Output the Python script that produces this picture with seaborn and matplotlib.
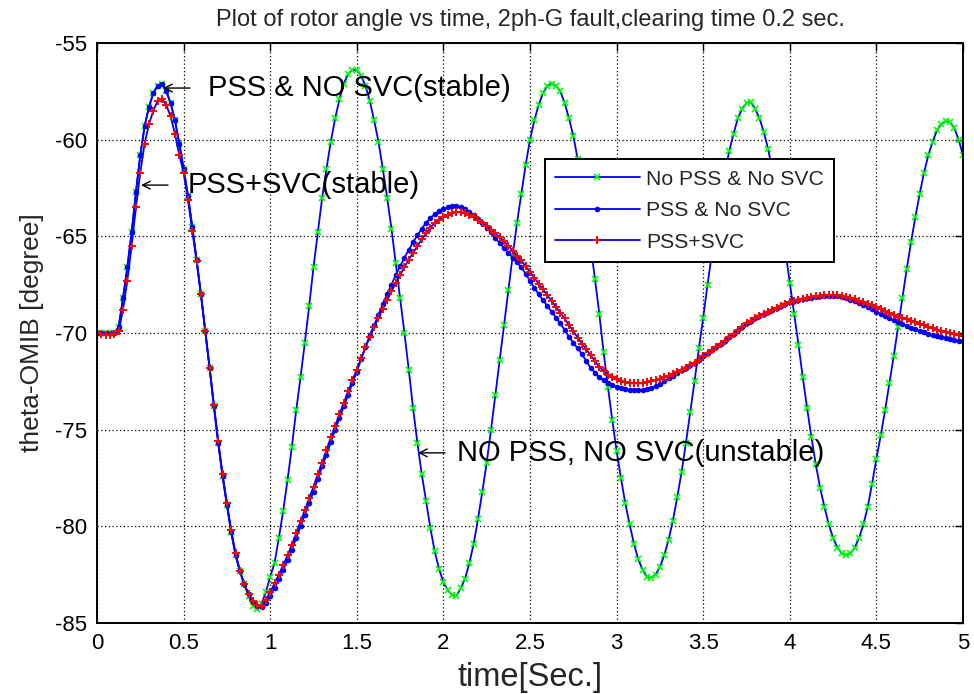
import numpy as np
import matplotlib
matplotlib.use("Agg")
import matplotlib.pyplot as plt
import seaborn as sns

# Simulation time grid [s]
time_s = np.round(np.arange(201) * 0.025, 3)

# Rotor angle of the one-machine equivalent [degree], one value per time step
theta_no_pss_no_svc = [
    -70.0, -70.0, -70.0, -70.0, -70.0, -69.7, -68.2, -66.6, -64.8, -62.7,
    -60.8, -59.3, -58.3, -57.6, -57.2, -57.1, -57.5, -58.1, -59.0, -60.2,
    -61.5, -62.9, -64.5, -66.2, -68.0, -69.9, -71.8, -73.8, -75.7, -77.4,
    -78.9, -80.3, -81.5, -82.3, -83.0, -83.6, -84.1, -84.3, -84.0, -83.4,
    -82.6, -81.9, -80.6, -79.2, -77.6, -75.9, -74.0, -72.3, -70.5, -68.6,
    -66.6, -64.8, -63.0, -61.5, -60.1, -58.9, -57.9, -57.1, -56.6, -56.4,
    -56.4, -56.7, -57.2, -58.0, -59.0, -60.1, -61.5, -63.0, -64.6, -66.4,
    -68.2, -70.0, -71.9, -73.9, -75.7, -77.3, -78.7, -80.1, -81.3, -82.2,
    -82.9, -83.3, -83.55, -83.6, -83.2, -82.7, -81.9, -80.9, -79.6, -78.2,
    -76.7, -75.0, -73.2, -71.4, -69.6, -67.8, -66.0, -64.3, -62.8, -61.3,
    -60.0, -59.0, -58.2, -57.6, -57.2, -57.1, -57.2, -57.5, -58.1, -58.9,
    -59.8, -61.0, -62.4, -63.9, -65.5, -67.2, -69.0, -71.0, -72.8, -74.5,
    -76.1, -77.5, -78.8, -79.9, -80.9, -81.7, -82.25, -82.6, -82.65, -82.5,
    -82.1, -81.5, -80.7, -79.7, -78.5, -77.2, -75.7, -74.1, -72.5, -70.8,
    -69.2, -67.5, -65.9, -64.4, -62.95, -61.7, -60.6, -59.7, -58.9, -58.4,
    -58.1, -58.05, -58.4, -58.9, -59.6, -60.5, -61.6, -62.9, -64.3, -65.8,
    -67.4, -69.0, -70.6, -72.3, -73.9, -75.4, -76.8, -78.0, -79.0, -79.9,
    -80.6, -81.1, -81.4, -81.5, -81.4, -81.1, -80.6, -79.9, -79.0, -77.8,
    -76.5, -75.3, -74.0, -72.6, -71.2, -69.7, -68.2, -66.7, -65.3, -64.0,
    -62.8, -61.7, -60.8, -60.1, -59.5, -59.2, -59.05, -59.1, -59.4, -60.0,
    -60.8,
]

theta_pss_no_svc = [
    -70.0, -70.0, -70.0, -70.0, -70.0, -69.7, -68.2, -66.6, -64.8, -62.7,
    -60.8, -59.3, -58.3, -57.6, -57.2, -57.1, -57.5, -58.1, -59.0, -60.2,
    -61.5, -62.9, -64.5, -66.2, -68.0, -69.9, -71.8, -73.8, -75.7, -77.4,
    -78.9, -80.3, -81.5, -82.3, -83.0, -83.5, -83.9, -84.1, -84.15, -83.95,
    -83.6, -83.2, -82.75, -82.25, -81.75, -81.2, -80.6, -80.0, -79.4, -78.8,
    -78.2, -77.55, -76.9, -76.3, -75.65, -75.0, -74.4, -73.8, -73.2, -72.6,
    -72.0, -71.35, -70.75, -70.1, -69.6, -69.05, -68.5, -68.0, -67.5, -67.0,
    -66.55, -66.1, -65.7, -65.3, -64.95, -64.6, -64.3, -64.05, -63.85, -63.7,
    -63.6, -63.5, -63.45, -63.45, -63.5, -63.6, -63.75, -63.9, -64.1, -64.3,
    -64.55, -64.8, -65.1, -65.35, -65.6, -65.85, -66.1, -66.35, -66.6, -66.95,
    -67.3, -67.65, -68.0, -68.3, -68.6, -68.9, -69.2, -69.5, -69.85, -70.2,
    -70.5, -70.8, -71.1, -71.45, -71.8, -72.05, -72.3, -72.45, -72.6, -72.7,
    -72.8, -72.85, -72.9, -72.95, -72.95, -72.95, -72.95, -72.9, -72.85, -72.75,
    -72.65, -72.5, -72.35, -72.2, -72.05, -71.9, -71.8, -71.65, -71.55, -71.4,
    -71.2, -71.05, -70.9, -70.7, -70.55, -70.4, -70.2, -70.05, -69.85, -69.7,
    -69.5, -69.4, -69.25, -69.1, -69.0, -68.9, -68.8, -68.7, -68.6, -68.5,
    -68.4, -68.35, -68.3, -68.25, -68.2, -68.2, -68.15, -68.1, -68.1, -68.1,
    -68.1, -68.1, -68.15, -68.2, -68.3, -68.35, -68.45, -68.55, -68.65, -68.75,
    -68.9, -69.0, -69.1, -69.25, -69.35, -69.45, -69.55, -69.65, -69.75, -69.8,
    -69.9, -69.95, -70.05, -70.1, -70.15, -70.2, -70.25, -70.3, -70.35, -70.4,
    -70.4,
]

theta_pss_svc = [
    -70.0, -70.05, -70.1, -70.1, -70.05, -69.9, -68.8, -67.3, -65.5, -63.5,
    -61.7, -60.2, -59.2, -58.5, -58.0, -57.9, -58.2, -58.8, -59.7, -60.8,
    -61.7, -63.1, -64.7, -66.3, -68.0, -69.9, -71.8, -73.7, -75.6, -77.3,
    -78.8, -80.2, -81.4, -82.3, -83.0, -83.5, -83.85, -84.05, -84.1, -83.8,
    -83.4, -82.95, -82.5, -82.0, -81.5, -80.95, -80.35, -79.75, -79.15, -78.55,
    -77.95, -77.3, -76.7, -76.05, -75.4, -74.8, -74.2, -73.6, -73.0, -72.45,
    -71.9, -71.3, -70.75, -70.2, -69.7, -69.2, -68.75, -68.3, -67.85, -67.4,
    -67.0, -66.6, -66.2, -65.85, -65.5, -65.15, -64.85, -64.55, -64.3, -64.15,
    -64.0, -63.9, -63.8, -63.75, -63.75, -63.8, -63.9, -64.0, -64.15, -64.3,
    -64.45, -64.65, -64.85, -65.05, -65.25, -65.5, -65.75, -66.0, -66.25, -66.55,
    -66.85, -67.15, -67.45, -67.75, -68.05, -68.35, -68.65, -68.95, -69.25, -69.6,
    -69.9, -70.25, -70.55, -70.85, -71.15, -71.45, -71.75, -71.95, -72.15, -72.3,
    -72.4, -72.5, -72.55, -72.6, -72.6, -72.6, -72.6, -72.55, -72.5, -72.45,
    -72.4, -72.3, -72.2, -72.1, -72.0, -71.9, -71.8, -71.65, -71.55, -71.4,
    -71.2, -71.05, -70.9, -70.7, -70.55, -70.4, -70.2, -70.05, -69.85, -69.7,
    -69.5, -69.4, -69.25, -69.1, -69.0, -68.9, -68.8, -68.7, -68.6, -68.5,
    -68.4, -68.35, -68.3, -68.25, -68.2, -68.15, -68.1, -68.1, -68.05, -68.05,
    -68.05, -68.05, -68.1, -68.15, -68.2, -68.25, -68.35, -68.4, -68.5, -68.55,
    -68.65, -68.75, -68.85, -68.95, -69.05, -69.15, -69.2, -69.3, -69.4, -69.45,
    -69.55, -69.6, -69.7, -69.75, -69.85, -69.9, -69.95, -70.0, -70.05, -70.1,
    -70.15,
]

series_labels = ["No PSS & No SVC", "PSS & No SVC", "PSS+SVC"]

x_ticks = [0, 0.5, 1, 1.5, 2, 2.5, 3, 3.5, 4, 4.5, 5]
x_tick_labels = ["0", "0.5", "1", "1.5", "2", "2.5", "3", "3.5", "4", "4.5", "5"]
y_ticks = [-85, -80, -75, -70, -65, -60, -55]
y_tick_labels = ["-85", "-80", "-75", "-70", "-65", "-60", "-55"]

# Case labels next to the curves: text, arrow tip (time, angle),
# arrow tail time and text start time
case_notes = [
    ("PSS & NO SVC(stable)", 0.381, -57.33, 0.537, 0.641),
    ("PSS+SVC(stable)", 0.254, -62.35, 0.410, 0.525),
    ("NO PSS, NO SVC(unstable)", 1.853, -76.2, 2.009, 2.078),
]

title_text = "Plot of rotor angle vs time, 2ph-G fault,clearing time 0.2 sec."
x_label = "time[Sec.]"
y_label = "theta-OMIB [degree]"

sns.set_style("white")
plt.rcParams["font.family"] = ["Liberation Sans", "DejaVu Sans"]

fig = plt.figure(figsize=(9.74, 6.94), dpi=100)
fig.patch.set_facecolor("white")
ax = fig.add_axes([97 / 974, 71 / 694, 866 / 974, 580 / 694])

line_blue = (0, 0, 1)
sns.lineplot(x=time_s, y=theta_no_pss_no_svc, ax=ax, sort=False, estimator=None,
             color=line_blue, linewidth=1.3, marker="x", markersize=5,
             markeredgecolor=(0, 1, 0), markerfacecolor=(0, 1, 0),
             markeredgewidth=1.2, label=series_labels[0])
sns.lineplot(x=time_s, y=theta_pss_no_svc, ax=ax, sort=False, estimator=None,
             color=line_blue, linewidth=1.3, marker=".", markersize=6,
             markeredgecolor=line_blue, markerfacecolor=line_blue,
             markeredgewidth=1.0, label=series_labels[1])
sns.lineplot(x=time_s, y=theta_pss_svc, ax=ax, sort=False, estimator=None,
             color=line_blue, linewidth=1.3, marker="+", markersize=6,
             markeredgecolor=(1, 0, 0), markerfacecolor=(1, 0, 0),
             markeredgewidth=1.4, label=series_labels[2])

ax.set_xlim(0, 5)
ax.set_ylim(-85, -55)
ax.set_xticks(x_ticks)
ax.set_xticklabels(x_tick_labels)
ax.set_yticks(y_ticks)
ax.set_yticklabels(y_tick_labels)
ax.tick_params(direction="in", length=6, width=1.0, top=True, right=True,
               labelsize=16, colors="black")
ax.tick_params(axis="x", pad=7)
ax.tick_params(axis="y", pad=7)
ax.grid(True, color="black", linestyle=(0, (1, 2)), linewidth=0.9)
for spine in ax.spines.values():
    spine.set_color("black")
    spine.set_linewidth(1.4)

ax.set_title(title_text, fontsize=17, pad=12)
ax.set_xlabel(x_label, fontsize=23.5, labelpad=6)
ax.set_ylabel(y_label, fontsize=19, labelpad=8)

for text, tip_t, tip_y, tail_t, text_t in case_notes:
    ax.annotate("", xy=(tip_t, tip_y), xytext=(tail_t, tip_y),
                arrowprops=dict(arrowstyle="->", color="black", lw=1.0,
                                shrinkA=0, shrinkB=0, mutation_scale=14))
    ax.text(text_t, tip_y, text, fontsize=21, ha="left", va="center",
            color="black")

leg = ax.legend(loc="upper left", bbox_to_anchor=(0.517, 0.800), borderaxespad=0,
                fontsize=15.2, handlelength=4.0, handletextpad=0.3,
                borderpad=0.5, labelspacing=0.6, fancybox=False,
                framealpha=1, edgecolor="black")
leg.get_frame().set_linewidth(1.4)

fig.savefig("out.png", dpi=100, facecolor="white")
